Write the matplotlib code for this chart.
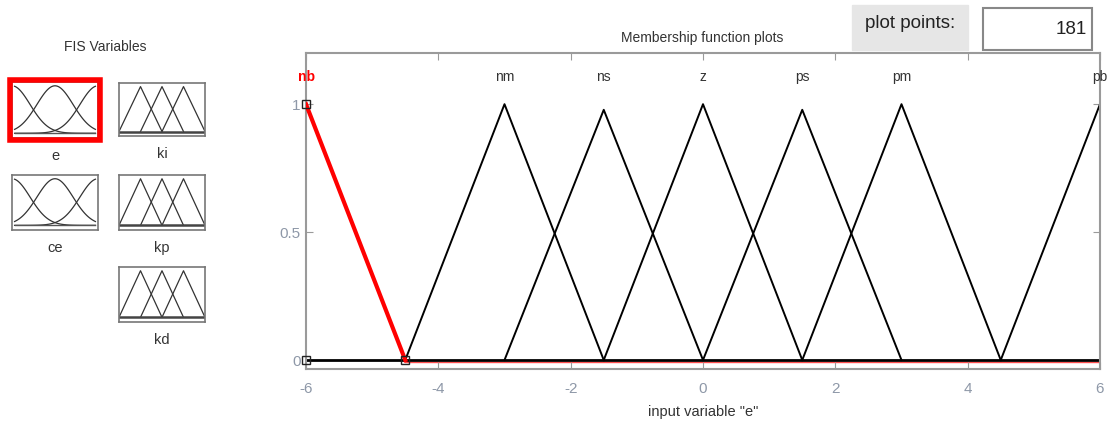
import numpy as np
import matplotlib.pyplot as plt
from matplotlib.patches import Rectangle

# membership functions of input "e" (trimf params), peak heights as drawn with 181 points
mf_names = ['nb', 'nm', 'ns', 'z', 'ps', 'pm', 'pb']
mf_a = [-7.5, -4.5, -3.0, -1.5, 0.0, 1.5, 4.5]
mf_b = [-6.0, -3.0, -1.5, 0.0, 1.5, 3.0, 6.0]
mf_c = [-4.5, -1.5, 0.0, 1.5, 3.0, 4.5, 7.5]
mf_peak = [1.0, 1.0, 0.978, 1.0, 0.978, 1.0, 1.0]

xticks = [-6, -4, -2, 0, 2, 4, 6]
yticks = [0, 0.5, 1]

# small FIS variable icons
var_names = ['e', 'ce', 'ki', 'kp', 'kd']
var_kind = ['gauss', 'gauss', 'tri', 'tri', 'tri']
gauss_centers = [0.0, 0.5, 1.0]
gauss_sigma = 0.21
tri_peaks = [0.25, 0.5, 0.75]

W, H = 1113, 423
plt.rcParams['font.family'] = ['Liberation Sans', 'DejaVu Sans']
plt.rcParams['axes.unicode_minus'] = False
fig = plt.figure(figsize=(W / 100, H / 100), dpi=100)

gray = '#9a9a9a'
ticklab = '#8e98a8'
txt = '#333333'

def fx(px):
    return px / W

def fy(py):
    return 1 - py / H

# ---- main membership plot
ax = fig.add_axes([fx(306), fy(369), fx(1100) - fx(306), fy(53) - fy(369)])
ax.set_xlim(-6, 6)
ax.set_ylim(-0.035, 1.2)

# zero lines first (red one for selected nb sits just under the black)
ax.plot([-4.5, 6], [-0.008, -0.008], color='#ff5050', lw=1.0, zorder=1)
ax.plot([-6, 6], [0, 0], color='black', lw=2, zorder=2)

for i, name in enumerate(mf_names):
    a, b, c = mf_a[i], mf_b[i], mf_c[i]
    xs = np.clip([a, b, c], -6, 6)
    ys = [0, mf_peak[i], 0]
    if name == 'nb':
        ax.plot(xs[1:], ys[1:], color='red', lw=3, zorder=3)
        ax.plot([-6, -6, -4.5], [1, 0, 0], ls='none', marker='s', ms=6,
                mfc='none', mec='#222222', mew=1, zorder=4, clip_on=False)
        ax.text(b, 1.105, name, color='red', fontsize=10, fontweight='bold',
                ha='center', va='center')
    else:
        ax.plot(xs, ys, color='black', lw=1.4, zorder=2)
        ax.text(b, 1.105, name, color=txt, fontsize=10,
                ha='center', va='center')

ax.set_xticks(xticks)
ax.set_yticks(yticks)
ax.set_yticklabels(['0', '0.5', '1'])
ax.tick_params(direction='in', top=True, right=True, colors=gray,
               labelsize=11, length=5, labelcolor=ticklab)
ax.tick_params(axis='x', pad=9)
ax.tick_params(axis='y', pad=4)
for s in ax.spines.values():
    s.set_color(gray)
    s.set_linewidth(1.5)
ax.set_xlabel('input variable "e"', fontsize=10.5, color=txt, labelpad=7)

fig.text(fx(702), fy(38), 'Membership function plots', fontsize=10,
         color=txt, ha='center', va='center')

# ---- plot points widgets
fig.patches.append(Rectangle((fx(852), fy(50)), fx(968) - fx(852), fy(5) - fy(50),
                             transform=fig.transFigure, color='#e6e6e6', zorder=0))
fig.text(fx(910), fy(24), 'plot points:', fontsize=13.5, color='#222222',
         ha='center', va='center')
fig.patches.append(Rectangle((fx(983), fy(50)), fx(1092) - fx(983), fy(8) - fy(50),
                             transform=fig.transFigure, fc='white', ec='#888888',
                             lw=1.5))
fig.text(fx(1087), fy(30), '181', fontsize=13.5, color='#222222',
         ha='right', va='center')

# ---- FIS variables panel
fig.text(fx(105), fy(47), 'FIS Variables', fontsize=10, color=txt,
         ha='center', va='center')

boxes = {
    'e': (12, 82, 98, 138),
    'ce': (12, 175, 98, 230),
    'ki': (119, 83, 205, 136),
    'kp': (119, 175, 205, 230),
    'kd': (119, 267, 205, 322),
}

for name, kind in zip(var_names, var_kind):
    x0, y0, x1, y1 = boxes[name]
    bx = fig.add_axes([fx(x0), fy(y1), fx(x1) - fx(x0), fy(y0) - fy(y1)])
    bx.set_xlim(0, 1)
    bx.set_ylim(-0.1, 1.08)
    bx.set_xticks([])
    bx.set_yticks([])
    for s in bx.spines.values():
        s.set_color('#777777')
        s.set_linewidth(1.2)
    if kind == 'gauss':
        t = np.linspace(0.03, 0.97, 101)
        for c in gauss_centers:
            bx.plot(t, np.exp(-(t - c) ** 2 / (2 * gauss_sigma ** 2)),
                    color='#333333', lw=0.9)
        bx.plot([0.03, 0.97], [0, 0], color='#555555', lw=1.0)
    else:
        for p in tri_peaks:
            bx.plot([p - 0.25, p, p + 0.25], [0, 1, 0], color='#333333', lw=0.9)
        bx.plot([0, 1], [0, 0], color='#444444', lw=1.8)
    fig.text(fx((x0 + x1) / 2), fy(y1 + 18), name, fontsize=10.5, color=txt,
             ha='center', va='center')
    if name == 'e':
        fig.patches.append(Rectangle((fx(x0 - 2), fy(y1 + 2)),
                                     fx(x1 - x0 + 4), fy(y0 - 2) - fy(y1 + 2),
                                     transform=fig.transFigure, fill=False,
                                     ec='red', lw=4, zorder=5))

fig.savefig('out.png', dpi=100)
